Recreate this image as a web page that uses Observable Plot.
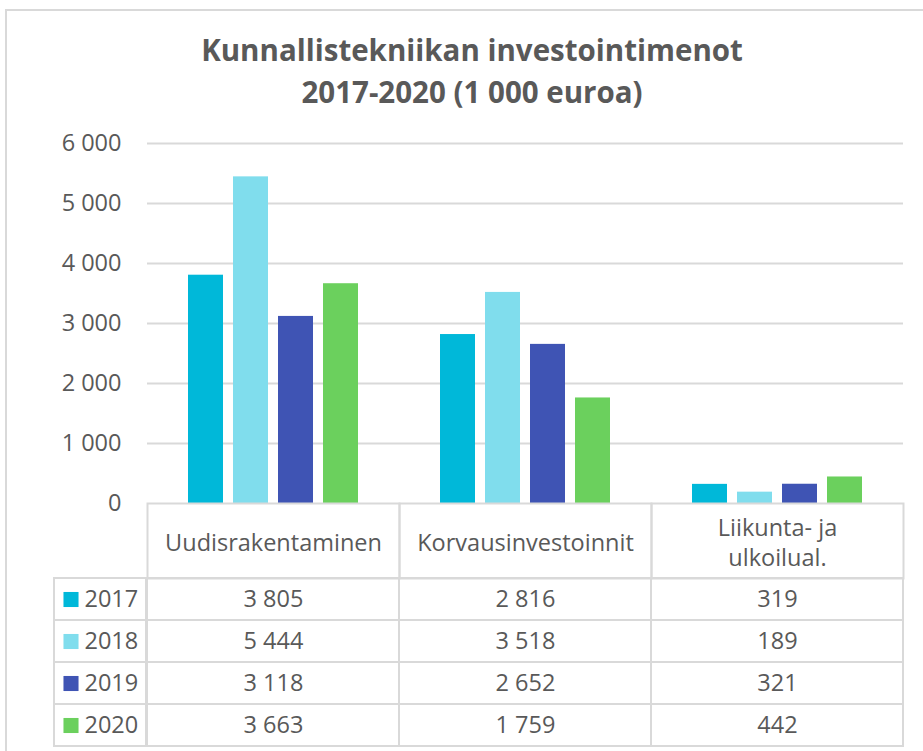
<!DOCTYPE html>
<html>
<head>
<meta charset="utf-8">
<script src="https://cdn.jsdelivr.net/npm/d3@7"></script>
<script src="https://cdn.jsdelivr.net/npm/@observablehq/plot@0.6"></script>
<style>
  body { margin: 0; background: #fff; }
  #wrap { position: relative; width: 923px; height: 751px; overflow: hidden; background: #fff; font-family: "Open Sans", sans-serif; color: #595959; }
  #border { position: absolute; left: 5px; top: 9px; width: 940px; height: 780px; border: 2px solid #d9d9d9; box-sizing: border-box; }
  #title { position: absolute; left: 0; top: 29px; width: 944px; text-align: center; font-weight: 700; font-size: 29.5px; line-height: 42px; color: #595959; }
  #chart { position: absolute; left: 0; top: 120px; }
  #table { position: absolute; left: 0; top: 578px; }
</style>
</head>
<body>
<div id="wrap">
  <div id="border"></div>
  <div id="title">Kunnallistekniikan investointimenot<br>2017-2020 (1 000 euroa)</div>
  <div id="chart"></div>
  <div id="table"></div>
</div>
<script>
const categories = ["Uudisrakentaminen", "Korvausinvestoinnit", "Liikunta- ja ulkoilual."];
const categoryLabels = ["Uudisrakentaminen", "Korvausinvestoinnit", "Liikunta- ja\nulkoilual."];
const years = ["2017", "2018", "2019", "2020"];
const values2017 = [3805, 2816, 319];
const values2018 = [5444, 3518, 189];
const values2019 = [3118, 2652, 321];
const values2020 = [3663, 1759, 442];
const yearColors = ["#00b8d9", "#80dded", "#3f54b4", "#6bd05d"];
const yTicks = [0, 1000, 2000, 3000, 4000, 5000, 6000];

const series = [values2017, values2018, values2019, values2020];
const data = years.flatMap((yr, i) => categories.map((c, j) => ({year: yr, category: c, value: series[i][j]})));
const headers = categories.map((c, i) => ({category: c, label: categoryLabels[i]}));

const locale = d3.formatLocale({decimal: ",", thousands: " ", grouping: [3], currency: ["", " €"]});
const fmt = locale.format(",d");

const grid = "#d9d9d9";
const txt = "#595959";
const fs = 23.5;

const chart = Plot.plot({
  width: 923,
  height: 458,
  marginLeft: 146,
  marginRight: 19,
  marginTop: 23,
  marginBottom: 75,
  style: {fontFamily: "Open Sans", fontSize: fs + "px", color: txt, background: "transparent", overflow: "visible"},
  fx: {domain: categories, padding: 0, axis: null},
  x: {domain: years, paddingInner: 0.217, paddingOuter: 0.855, axis: null},
  y: {domain: [0, 6000], axis: null},
  color: {domain: years, range: yearColors},
  marks: [
    Plot.ruleY(yTicks.filter(d => d > 0), {stroke: grid, strokeWidth: 2}),
    Plot.axisY({ticks: yTicks, tickSize: 0, tickPadding: 26, tickFormat: fmt, fill: txt, fontSize: fs, label: null}),
    Plot.barY(data, {fx: "category", x: "year", y: "value", fill: "year"}),
    Plot.frame({stroke: grid, strokeWidth: 2, insetTop: 360, insetBottom: -75}),
    Plot.text(headers, {fx: "category", text: "label", frameAnchor: "bottom", dy: 37.5, lineAnchor: "middle", lineHeight: 1.3, fill: txt, fontSize: fs})
  ]
});
document.getElementById("chart").appendChild(chart);

const table = Plot.plot({
  width: 923,
  height: 172,
  marginLeft: 146,
  marginRight: 19,
  marginTop: 0,
  marginBottom: 4,
  style: {fontFamily: "Open Sans", fontSize: fs + "px", color: txt, background: "transparent", overflow: "visible"},
  x: {domain: categories, padding: 0, axis: null},
  y: {domain: years, padding: 0, axis: null},
  color: {domain: years, range: yearColors},
  marks: [
    Plot.cell(data, {x: "category", y: "year", fill: "none", stroke: grid, strokeWidth: 2}),
    Plot.cell(years, {y: d => d, fill: "none", stroke: grid, strokeWidth: 2, insetLeft: -92, insetRight: 758}),
    Plot.text(data, {x: "category", y: "year", text: d => fmt(d.value), fill: txt, fontSize: fs}),
    Plot.dot(years, {y: d => d, frameAnchor: "left", dx: -75.5, symbol: "square", r: 8.5, fill: d => d}),
    Plot.text(years, {y: d => d, frameAnchor: "left", dx: -62, textAnchor: "start", fill: txt, fontSize: fs})
  ]
});
document.getElementById("table").appendChild(table);
</script>
</body>
</html>
